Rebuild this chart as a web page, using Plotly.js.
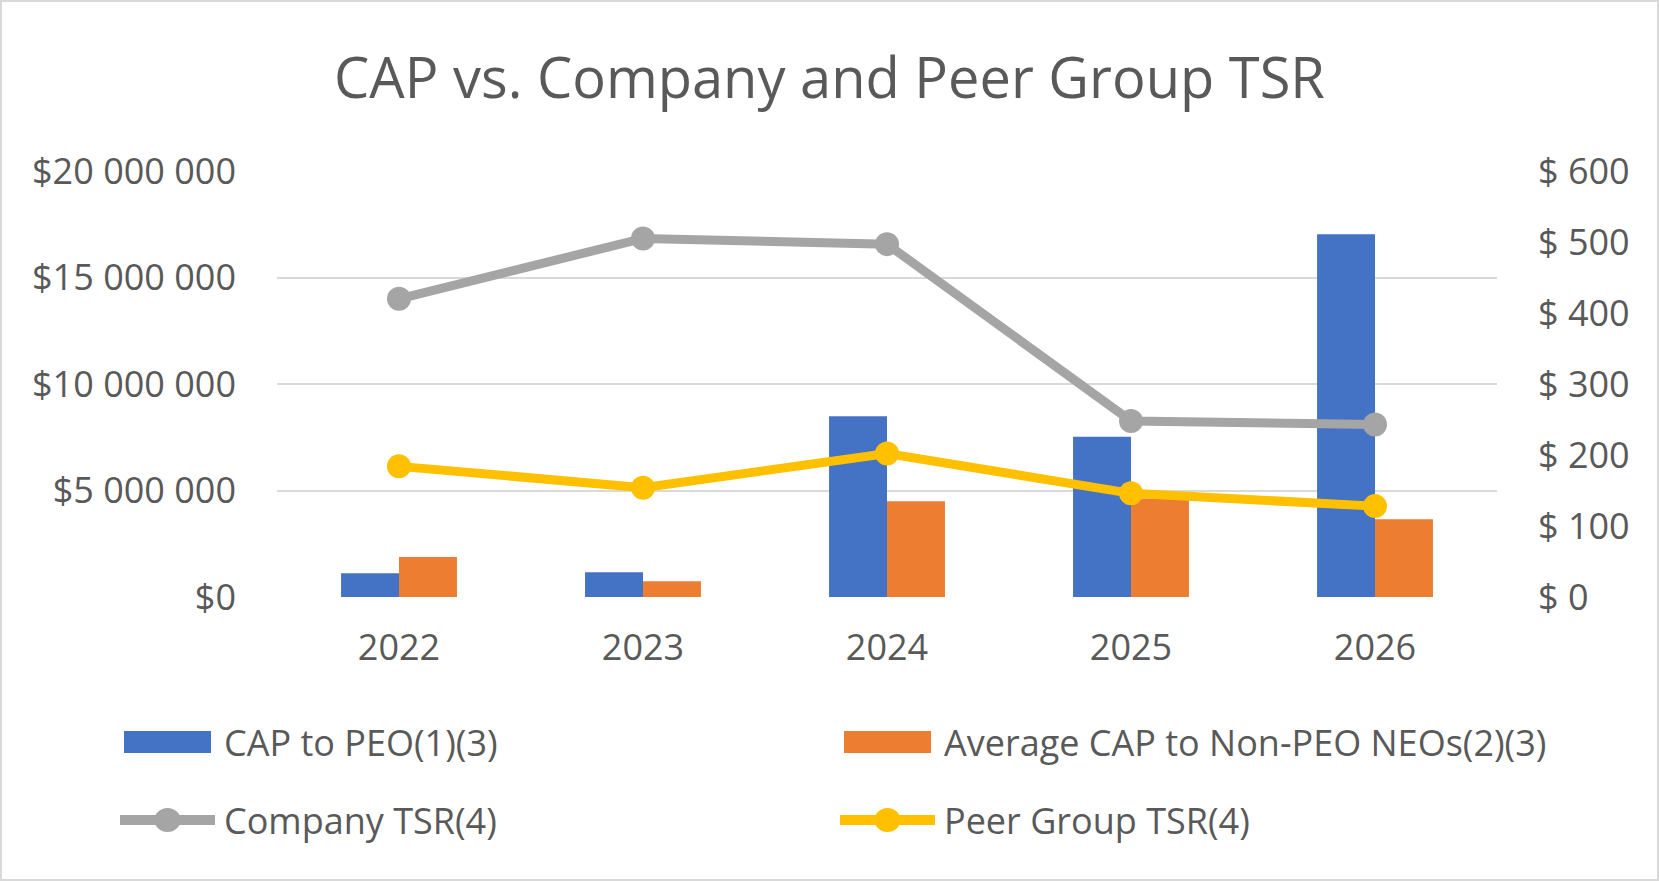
<!DOCTYPE html>
<html>
<head>
<meta charset="utf-8">
<script src="https://cdn.plot.ly/plotly-3.0.1.min.js"></script>
<style>
  html, body { margin: 0; padding: 0; background: #fff; }
  #wrap { position: relative; width: 1659px; height: 881px; }
  #chart { width: 1659px; height: 881px; }
  #frame { position: absolute; left: 0; top: 0; width: 1659px; height: 881px; box-sizing: border-box; border: 2px solid #d9d9d9; pointer-events: none; }
</style>
</head>
<body>
<div id="wrap"><div id="chart"></div><div id="frame"></div></div>
<script>
// ---- data ----
const years = ["2022", "2023", "2024", "2025", "2026"];
const capPEO = [1110000, 1160000, 8490000, 7520000, 17030000];
const capNonPEO = [1880000, 740000, 4500000, 4620000, 3650000];
const companyTSR = [420, 505, 497, 248, 243];
const peerTSR = [184, 154, 202, 146, 128];
const seriesNames = ["CAP to PEO(1)(3)", "Average CAP to Non-PEO NEOs(2)(3)", "Company TSR(4)", "Peer Group TSR(4)"];

const FONT = "'Open Sans', Lato, sans-serif";
const TXT = "#595959";
const colors = { blue: "#4472C4", orange: "#ED7D31", gray: "#A5A5A5", yellow: "#FFC000" };

const traces = [
  { type: "bar", x: years, y: capPEO, name: seriesNames[0], marker: { color: colors.blue }, showlegend: false, yaxis: "y" },
  { type: "bar", x: years, y: capNonPEO, name: seriesNames[1], marker: { color: colors.orange }, showlegend: false, yaxis: "y" },
  { type: "scatter", mode: "lines+markers", x: years, y: companyTSR, name: seriesNames[2], yaxis: "y2", showlegend: false,
    line: { color: colors.gray, width: 9 }, marker: { color: colors.gray, size: 24 } },
  { type: "scatter", mode: "lines+markers", x: years, y: peerTSR, name: seriesNames[3], yaxis: "y2", showlegend: false,
    line: { color: colors.yellow, width: 9 }, marker: { color: colors.yellow, size: 24 } }
];

// pixel -> paper helpers (plot area: x 277..1497, y 171..597)
const plotL = 277, plotW = 1220, plotB = 597, plotH = 426;
function px(x) { return (x - plotL) / plotW; }
function py(y) { return (plotB - y) / plotH; }

// custom legend (wide swatches as in the original)
const legendItems = [
  { name: seriesNames[0], kind: "bar",  color: colors.blue,   sx: 124, tx: 222, cy: 742 },
  { name: seriesNames[1], kind: "bar",  color: colors.orange, sx: 844, tx: 942, cy: 742 },
  { name: seriesNames[2], kind: "line", color: colors.gray,   sx: 120, tx: 222, cy: 820 },
  { name: seriesNames[3], kind: "line", color: colors.yellow, sx: 840, tx: 942, cy: 820 }
];
const shapes = [];
const annotations = [];
legendItems.forEach(it => {
  if (it.kind === "bar") {
    shapes.push({ type: "rect", xref: "paper", yref: "paper", x0: px(it.sx), x1: px(it.sx + 87),
      y0: py(it.cy + 11), y1: py(it.cy - 11), fillcolor: it.color, line: { width: 0 } });
  } else {
    shapes.push({ type: "line", xref: "paper", yref: "paper", x0: px(it.sx), x1: px(it.sx + 95),
      y0: py(it.cy), y1: py(it.cy), line: { color: it.color, width: 10 } });
    const cx = it.sx + 47.5;
    shapes.push({ type: "circle", xref: "paper", yref: "paper", x0: px(cx - 13), x1: px(cx + 13),
      y0: py(it.cy + 12), y1: py(it.cy - 12), fillcolor: it.color, line: { width: 0 } });
  }
  annotations.push({ text: it.name, xref: "paper", yref: "paper", x: px(it.tx), y: py(it.cy),
    xanchor: "left", yanchor: "middle", showarrow: false, font: { family: FONT, size: 36, color: TXT } });
});

const layout = {
  width: 1659, height: 881,
  margin: { l: 277, r: 162, t: 171, b: 284 },
  paper_bgcolor: "#fff", plot_bgcolor: "#fff",
  separators: ". ",
  showlegend: false,
  font: { family: FONT, color: TXT },
  title: { text: "CAP vs. Company and Peer Group TSR", font: { family: FONT, size: 56, color: TXT },
           x: 0.5, xanchor: "center", y: 1 - 78 / 881, yanchor: "middle" },
  barmode: "group", bargap: 0.525, bargroupgap: 0,
  xaxis: { type: "category", showgrid: false, zeroline: false, showline: false,
           tickfont: { family: FONT, size: 36, color: TXT }, ticks: "", ticklabelstandoff: 26 },
  yaxis: { range: [0, 20000000], dtick: 5000000, tickprefix: "$", tickformat: ",d",
           showgrid: true, gridcolor: "#d9d9d9", gridwidth: 2, zeroline: false, showline: false,
           tickfont: { family: FONT, size: 36, color: TXT }, ticks: "", ticklabelstandoff: 40 },
  yaxis2: { range: [0, 600], dtick: 100, tickprefix: "$ ", overlaying: "y", side: "right",
            showgrid: false, zeroline: false, showline: false,
            tickfont: { family: FONT, size: 36, color: TXT }, ticks: "", ticklabelstandoff: 40 },
  shapes: shapes,
  annotations: annotations
};

Plotly.newPlot("chart", traces, layout, { displayModeBar: false, staticPlot: true });
</script>
</body>
</html>
